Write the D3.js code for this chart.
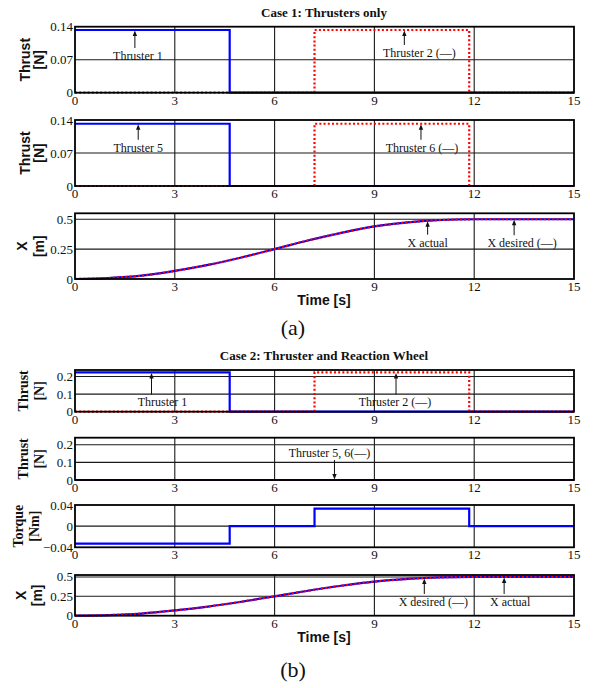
<!DOCTYPE html>
<html>
<head>
<meta charset="utf-8">
<style>
  body { margin: 0; background: #fff; }
  text { fill: #111; }
</style>
</head>
<body>
<svg id="svg"></svg>
<script src="https://cdn.jsdelivr.net/npm/d3@7"></script>
<script>

// ---- data ----
const timeTicks = [0, 3, 6, 9, 12, 15];

// case 1 : thrusters only (step signals, value holds until next time)
const c1Thr1T = [0, 4.65, 15];
const c1Thr1V = [0.133, 0, 0];
const c1Thr2T = [0, 7.2, 11.85, 15];
const c1Thr2V = [0, 0.133, 0, 0];
const c1Thr5T = [0, 4.65, 15];
const c1Thr5V = [0.132, 0, 0];
const c1Thr6T = [0, 7.2, 11.85, 15];
const c1Thr6V = [0, 0.132, 0, 0];

// case 2 : thruster + reaction wheel
const c2Thr1T = [0, 4.65, 15];
const c2Thr1V = [0.223, 0, 0];
const c2Thr2T = [0, 7.2, 11.85, 15];
const c2Thr2V = [0, 0.223, 0, 0];
const c2Thr56T = [0, 15];
const c2Thr56V = [0, 0];
const torqueT = [0, 4.65, 7.2, 11.85, 15];
const torqueV = [-0.033, 0, 0.033, 0, 0];

// position X (actual and desired overlap)
const posT = [0, 1, 2, 3, 4, 5, 6, 7, 8, 9, 10, 10.5, 11, 12, 13, 14, 15];
const xActual  = [0, 0.008, 0.028, 0.068, 0.118, 0.18, 0.25, 0.322, 0.386, 0.44, 0.474, 0.486, 0.494, 0.5, 0.5, 0.5, 0.5];
const xDesired = [0, 0.008, 0.028, 0.068, 0.118, 0.18, 0.25, 0.322, 0.386, 0.44, 0.474, 0.486, 0.494, 0.5, 0.5, 0.5, 0.5];

const thrust1Ticks = [0, 0.07, 0.14];
const thrust1Labels = ["0", "0.07", "0.14"];
const thrust2Ticks = [0, 0.1, 0.2];
const thrust2Labels = ["0", "0.1", "0.2"];
const torqueTicks = [-0.04, 0, 0.04];
const torqueLabels = ["\u22120.04", "0", "0.04"];
const posTicks = [0, 0.25, 0.5];
const posLabels = ["0", "0.25", "0.5"];

// ---- layout ----
const W = 598, H = 688;
const serif = "'Liberation Serif', 'Times New Roman', serif";
const sans = "'Liberation Sans', Arial, sans-serif";

const svg = d3.select("#svg")
    .attr("width", W)
    .attr("height", H)
    .style("background", "#fff");

const x = d3.scaleLinear().domain([0, 15]).range([75, 574]);

const zip = (t, v) => t.map((d, i) => ({t: d, v: v[i]}));

function panel(cfg) {
  const y = d3.scaleLinear().domain(cfg.domain).range([cfg.bottom, cfg.top]);
  const g = svg.append("g");

  // grid
  g.selectAll(".vg").data(timeTicks.slice(1, -1)).enter().append("line")
      .attr("x1", d => x(d)).attr("x2", d => x(d))
      .attr("y1", cfg.top).attr("y2", cfg.bottom)
      .attr("stroke", "#1a1a1a").attr("stroke-width", 1.1);
  g.selectAll(".hg").data(cfg.ticks.filter(d => y(d) > cfg.top + 1 && y(d) < cfg.bottom - 1)).enter().append("line")
      .attr("x1", x(0)).attr("x2", x(15))
      .attr("y1", d => y(d)).attr("y2", d => y(d))
      .attr("stroke", "#1a1a1a").attr("stroke-width", 1.1);

  // series
  cfg.series.forEach(s => {
    const line = d3.line().x(d => x(d.t)).y(d => y(d.v))
        .curve(s.step ? d3.curveStepAfter : d3.curveMonotoneX);
    g.append("path")
        .datum(zip(s.t, s.v))
        .attr("fill", "none")
        .attr("stroke", s.color)
        .attr("stroke-width", 2.2)
        .attr("stroke-dasharray", s.dash ? "2,2.2" : null)
        .attr("d", line);
  });

  // frame
  g.append("rect")
      .attr("x", x(0)).attr("y", cfg.top)
      .attr("width", x(15) - x(0)).attr("height", cfg.bottom - cfg.top)
      .attr("fill", "none").attr("stroke", "#000").attr("stroke-width", 1.8);

  // y tick labels
  g.selectAll(".yl").data(cfg.ticks).enter().append("text")
      .attr("x", x(0) - 2)
      .attr("y", d => y(d) + 4.5)
      .attr("text-anchor", "end")
      .style("font", "13px " + serif)
      .text((d, i) => cfg.tickLabels[i]);

  // x tick labels
  g.selectAll(".xl").data(timeTicks).enter().append("text")
      .attr("x", d => x(d))
      .attr("y", cfg.bottom + 12)
      .attr("text-anchor", "middle")
      .style("font", "13px " + serif)
      .text(d => d);

  // y label (two rotated lines)
  const mid = (cfg.top + cfg.bottom) / 2;
  cfg.ylabel.forEach((txt, i) => {
    g.append("text")
        .attr("transform", `translate(${cfg.ylabelX[i]},${mid}) rotate(-90)`)
        .attr("text-anchor", "middle")
        .style("font", `bold 14px ${cfg.ylabelFont}`)
        .text(txt);
  });

  // annotations
  (cfg.notes || []).forEach(n => {
    const tx = x(n.t), ty = y(n.v);
    const ly = ty + n.dy;
    const end = n.dy > 0 ? ly - 8 : ly + 7;
    const s = n.dy > 0 ? 1 : -1;
    g.append("line")
        .attr("x1", tx).attr("x2", tx)
        .attr("y1", ty + s * 4).attr("y2", end)
        .attr("stroke", "#111").attr("stroke-width", 1);
    g.append("path")
        .attr("d", `M${tx},${ty + s * 0.5} L${tx - 2.2},${ty + s * 6} L${tx + 2.2},${ty + s * 6} Z`)
        .attr("fill", "#111");
    g.append("text")
        .attr("x", tx + n.dx)
        .attr("y", ly + 4)
        .attr("text-anchor", "middle")
        .style("font", "12px " + serif)
        .text(n.label);
  });
}

const blue = "#0000ff", red = "#ff0000";

// ---- Case 1 ----
svg.append("text").attr("x", 324).attr("y", 16.5).attr("text-anchor", "middle")
    .style("font", "bold 13px " + serif).text("Case 1: Thrusters only");

panel({
  top: 26.7, bottom: 92.7, domain: [0, 0.14], ticks: thrust1Ticks, tickLabels: thrust1Labels,
  ylabel: ["Thrust", "[N]"], ylabelX: [30, 44], ylabelFont: sans,
  series: [
    {t: c1Thr1T, v: c1Thr1V, color: blue, step: true},
    {t: c1Thr2T, v: c1Thr2V, color: red, step: true, dash: true}
  ],
  notes: [
    {t: 1.8, v: c1Thr1V[0], dy: 26, dx: 3, label: "Thruster 1"},
    {t: 9.9, v: c1Thr2V[1], dy: 23, dx: 15, label: "Thruster 2 (\u2013\u2013)"}
  ]
});

panel({
  top: 120, bottom: 186, domain: [0, 0.14], ticks: thrust1Ticks, tickLabels: thrust1Labels,
  ylabel: ["Thrust", "[N]"], ylabelX: [30, 44], ylabelFont: sans,
  series: [
    {t: c1Thr5T, v: c1Thr5V, color: blue, step: true},
    {t: c1Thr6T, v: c1Thr6V, color: red, step: true, dash: true}
  ],
  notes: [
    {t: 1.9, v: c1Thr5V[0], dy: 24, dx: 0, label: "Thruster 5"},
    {t: 10.4, v: c1Thr6V[1], dy: 24, dx: 1, label: "Thruster 6 (\u2013\u2013)"}
  ]
});

panel({
  top: 213.3, bottom: 279, domain: [0, 0.55], ticks: posTicks, tickLabels: posLabels,
  ylabel: ["X", "[m]"], ylabelX: [27, 44], ylabelFont: sans,
  series: [
    {t: posT, v: xActual, color: blue},
    {t: posT, v: xDesired, color: red, dash: true}
  ],
  notes: [
    {t: 10.6, v: 0.488, dy: 22, dx: 0, label: "X actual"},
    {t: 13.2, v: 0.5, dy: 24, dx: 8, label: "X desired (\u2013\u2013)"}
  ]
});

svg.append("text").attr("x", 324).attr("y", 305).attr("text-anchor", "middle")
    .style("font", "bold 14px " + sans).text("Time [s]");
svg.append("text").attr("x", 293).attr("y", 335).attr("text-anchor", "middle")
    .style("font", "22px " + serif).text("(a)");

// ---- Case 2 ----
svg.append("text").attr("x", 324).attr("y", 359.5).attr("text-anchor", "middle")
    .style("font", "bold 13px " + serif).text("Case 2: Thruster and Reaction Wheel");

panel({
  top: 370, bottom: 411.7, domain: [0, 0.237], ticks: thrust2Ticks, tickLabels: thrust2Labels,
  ylabel: ["Thrust", "[N]"], ylabelX: [28, 44], ylabelFont: serif,
  series: [
    {t: c2Thr1T, v: c2Thr1V, color: blue, step: true},
    {t: c2Thr2T, v: c2Thr2V, color: red, step: true, dash: true}
  ],
  notes: [
    {t: 2.3, v: c2Thr1V[0], dy: 30, dx: 11, label: "Thruster 1"},
    {t: 9.65, v: c2Thr2V[1], dy: 30, dx: -1, label: "Thruster 2 (\u2013\u2013)"}
  ]
});

panel({
  top: 437.7, bottom: 480, domain: [0, 0.24], ticks: thrust2Ticks, tickLabels: thrust2Labels,
  ylabel: ["Thrust", "[N]"], ylabelX: [28, 44], ylabelFont: serif,
  series: [
    {t: c2Thr56T, v: c2Thr56V, color: blue, step: true},
    {t: c2Thr56T, v: c2Thr56V, color: red, step: true, dash: true}
  ],
  notes: [
    {t: 7.8, v: 0, dy: -27, dx: -5, label: "Thruster 5, 6(\u2013\u2013)"}
  ]
});

panel({
  top: 505, bottom: 547.3, domain: [-0.04, 0.04], ticks: torqueTicks, tickLabels: torqueLabels,
  ylabel: ["Torque", "[Nm]"], ylabelX: [23, 39], ylabelFont: serif,
  series: [
    {t: torqueT, v: torqueV, color: blue, step: true}
  ]
});

panel({
  top: 575, bottom: 615.7, domain: [0, 0.525], ticks: posTicks, tickLabels: posLabels,
  ylabel: ["X", "[m]"], ylabelX: [26, 42], ylabelFont: sans,
  series: [
    {t: posT, v: xActual, color: blue},
    {t: posT, v: xDesired, color: red, dash: true}
  ],
  notes: [
    {t: 10.5, v: 0.486, dy: 24, dx: 9, label: "X desired (\u2013\u2013)"},
    {t: 12.9, v: 0.5, dy: 25, dx: 6, label: "X actual"}
  ]
});

svg.append("text").attr("x", 324).attr("y", 641.5).attr("text-anchor", "middle")
    .style("font", "bold 14px " + sans).text("Time [s]");
svg.append("text").attr("x", 293).attr("y", 677).attr("text-anchor", "middle")
    .style("font", "22px " + serif).text("(b)");

</script>
</body>
</html>
